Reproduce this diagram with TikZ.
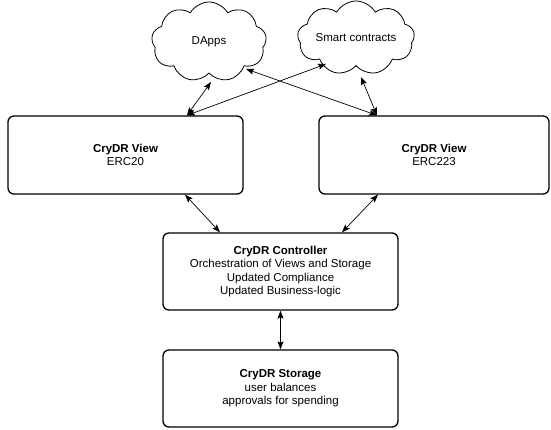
\documentclass[tikz,border=0pt]{standalone}
\usepackage{fontspec}
\setmainfont{Liberation Sans}
\usetikzlibrary{shapes.symbols,arrows.meta}
\begin{document}
\begin{tikzpicture}[x=1pt,y=1pt,
  box/.style={draw, line width=1.3pt, rounded corners=6pt, align=center,
    font=\fontsize{11.5}{13.5}\selectfont, inner sep=0pt},
  cloudnode/.style={draw, line width=0.8pt, cloud, cloud puffs=9, cloud puff arc=120,
    cloud ignores aspect, align=center, inner sep=0pt,
    font=\fontsize{11.5}{13.5}\selectfont},
  link/.style={line width=0.7pt, {Stealth[length=8pt,width=6pt,inset=1.5pt]}-{Stealth[length=8pt,width=6pt,inset=1.5pt]}}
]
\useasboundingbox (0,0) rectangle (551,430);
\node[cloudnode, minimum width=115pt, minimum height=80pt] (dapps) at (209,388) {DApps};
\node[cloudnode, minimum width=117pt, minimum height=74pt] (smart) at (356,392) {Smart contracts};
\node[box, minimum width=235pt, minimum height=78pt] (v1) at (125.5,275) {\textbf{CryDR View}\\ERC20};
\node[box, minimum width=230pt, minimum height=78pt] (v2) at (434,275) {\textbf{CryDR View}\\ERC223};
\node[box, minimum width=235pt, minimum height=77pt] (ctrl) at (280.5,158.5) {\textbf{CryDR Controller}\\Orchestration of Views and Storage\\Updated Compliance\\Updated Business-logic};
\node[box, minimum width=235pt, minimum height=77pt] (stor) at (280.5,41.5) {\textbf{CryDR Storage}\\user balances\\approvals for spending};
\draw[link] ([shift={(2pt,-40pt)}]dapps.center) -- ([xshift=61.5pt]v1.north);
\draw[link] ([xshift=61.5pt]v1.north) -- ([shift={(-30pt,-26pt)}]smart.center);
\draw[link] ([shift={(37pt,-27pt)}]dapps.center) -- ([xshift=-57pt]v2.north);
\draw[link] ([shift={(5pt,-39pt)}]smart.center) -- ([xshift=-57pt]v2.north);
\draw[link] ([xshift=59.5pt]v1.south) -- ([xshift=-60.5pt]ctrl.north);
\draw[link] ([xshift=-56pt]v2.south) -- ([xshift=61.5pt]ctrl.north);
\draw[link] (ctrl.south) -- (stor.north);
\end{tikzpicture}
\end{document}
